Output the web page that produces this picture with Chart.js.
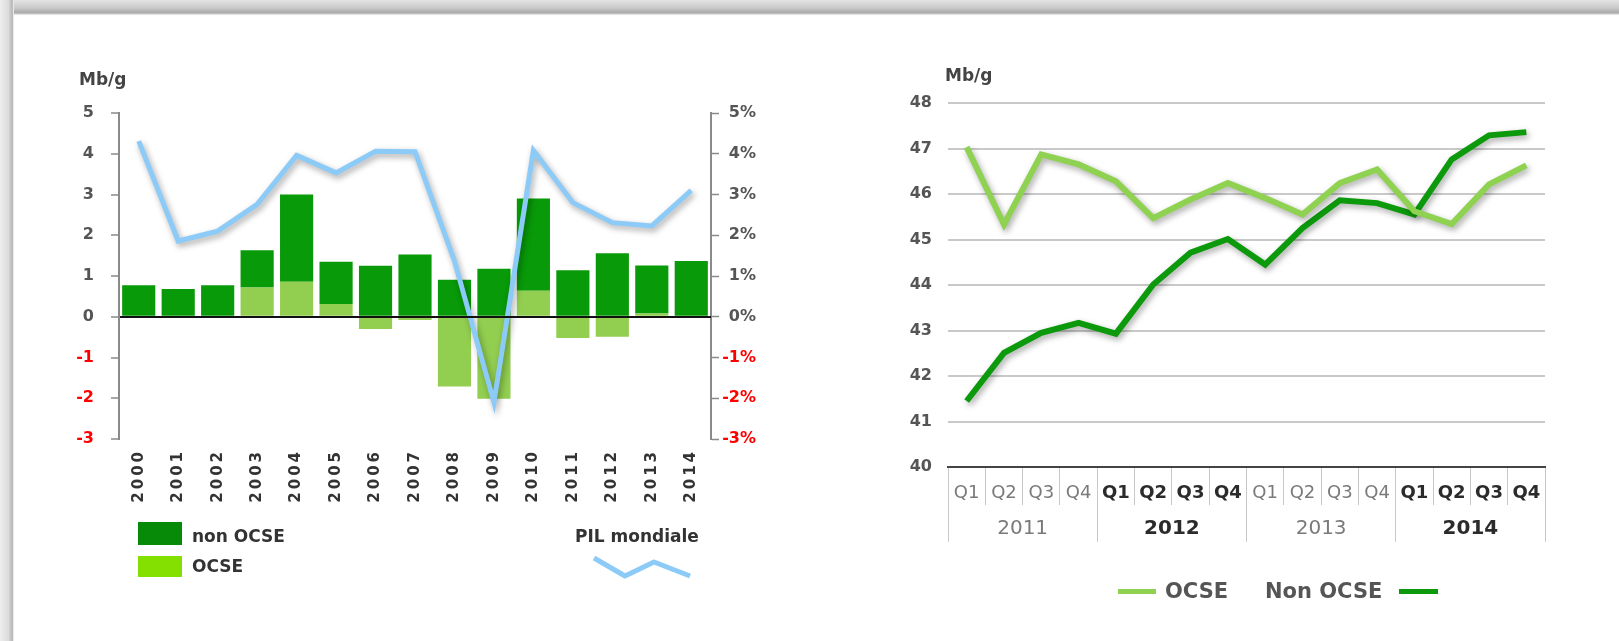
<!DOCTYPE html>
<html>
<head>
<meta charset="utf-8">
<script src="https://cdn.jsdelivr.net/npm/chart.js@4.4.1/dist/chart.umd.min.js"></script>
<style>
html, body { margin: 0; padding: 0; background: #fff; }
body { width: 1619px; height: 641px; position: relative; overflow: hidden; font-family: "DejaVu Sans", Verdana, sans-serif; }
#shadeTop { position: absolute; left: 0; top: 0; width: 1619px; height: 15px; background: linear-gradient(#e4e4e4, #c8c8c8 55%, #a9a9a9 85%, #f2f2f2); }
#shadeLeft { position: absolute; left: 0; top: 0; width: 14px; height: 641px; background: linear-gradient(to right, #eeeeee, #dcdcdc 60%, #b5b5b5 88%, #ffffff); }
.box { position: absolute; }
.lbl { position: absolute; font-weight: bold; white-space: nowrap; line-height: 1; }
</style>
</head>
<body>
<div id="shadeTop"></div>
<div id="shadeLeft"></div>

<div class="box" style="left:0;top:0;width:790px;height:530px"><canvas id="left"></canvas></div>
<div class="box" style="left:800px;top:0;width:819px;height:641px"><canvas id="right"></canvas></div>

<div class="lbl" style="left:79px;top:71px;font-size:17px;color:#444">Mb/g</div>
<div class="lbl" style="left:945px;top:67px;font-size:17px;color:#444">Mb/g</div>

<!-- left legend -->
<div class="box" style="left:138px;top:522px;width:44px;height:23px;background:#078a07"></div>
<div class="box" style="left:138px;top:556px;width:44px;height:21px;background:#84e000"></div>
<div class="lbl" style="left:192px;top:528px;font-size:17px;color:#333">non OCSE</div>
<div class="lbl" style="left:192px;top:558px;font-size:17px;color:#333">OCSE</div>
<div class="lbl" style="left:575px;top:528px;font-size:17px;color:#333">PIL mondiale</div>
<svg class="box" style="left:585px;top:550px" width="115" height="35">
  <polyline points="9,8 40,26 69,12 105,26" fill="none" stroke="#8ccaf7" stroke-width="5" stroke-linejoin="round"/>
</svg>

<!-- right legend -->
<div class="box" style="left:1118px;top:589px;width:38px;height:5px;background:#8fd150"></div>
<div class="lbl" style="left:1165px;top:581px;font-size:21px;color:#555">OCSE</div>
<div class="lbl" style="left:1265px;top:581px;font-size:21px;color:#555">Non OCSE</div>
<div class="box" style="left:1399px;top:589px;width:39px;height:5px;background:#0c9a0c"></div>

<script>
// left chart: yearly change, Mb/g, and world GDP growth (%)
const years = ['2000', '2001', '2002', '2003', '2004', '2005', '2006', '2007',
               '2008', '2009', '2010', '2011', '2012', '2013', '2014'];
const ocse = [0, 0, 0, 0.72, 0.86, 0.31, -0.30, -0.08, -1.71, -2.01, 0.64, -0.52, -0.49, 0.08, 0];
const nonOcse = [0.77, 0.68, 0.77, 0.91, 2.14, 1.04, 1.25, 1.53, 0.91, 1.18, 2.26, 1.14, 1.56, 1.18, 1.37];
const pilMondiale = [4.31, 1.86, 2.10, 2.76, 3.96, 3.53, 4.06, 4.05, 1.37, -2.10, 4.08, 2.80, 2.31, 2.23, 3.10];

// right chart: quarterly demand, Mb/g
const quarters = ['Q1', 'Q2', 'Q3', 'Q4', 'Q1', 'Q2', 'Q3', 'Q4',
                  'Q1', 'Q2', 'Q3', 'Q4', 'Q1', 'Q2', 'Q3', 'Q4'];
const quarterYears = ['2011', '2012', '2013', '2014'];
const ocseQ = [47.03, 45.33, 46.87, 46.65, 46.28, 45.47, 45.88, 46.24,
               45.91, 45.55, 46.24, 46.54, 45.62, 45.34, 46.21, 46.63];
const nonOcseQ = [41.45, 42.51, 42.95, 43.17, 42.93, 44.01, 44.71, 45.01,
                  44.45, 45.25, 45.86, 45.80, 45.55, 46.76, 47.29, 47.36];

const FONT = '"DejaVu Sans", Verdana, sans-serif';

const lineShadow = {
    id: 'lineShadow',
    beforeDatasetDraw(chart, args) {
        if (args.meta.type !== 'line') return;
        const c = chart.ctx;
        c.save();
        c.shadowColor = 'rgba(0,0,0,0.35)';
        c.shadowBlur = 6;
        c.shadowOffsetX = 2;
        c.shadowOffsetY = 3;
    },
    afterDatasetDraw(chart, args) {
        if (args.meta.type === 'line') chart.ctx.restore();
    }
};

// year labels of the left chart are spaced out
const spacedX = {
    id: 'spacedX',
    beforeDraw(chart) {
        const s = chart.scales.x;
        if (s._spaced) return;
        const orig = s.drawLabels;
        s.drawLabels = function (area) {
            chart.ctx.save();
            chart.ctx.letterSpacing = '3px';
            orig.call(this, area);
            chart.ctx.restore();
        };
        s._spaced = true;
    }
};

const axisGrey = '#8a8a8a';

new Chart(document.getElementById('left'), {
    data: {
        labels: years,
        datasets: [
            {
                type: 'line',
                label: 'PIL mondiale',
                data: pilMondiale,
                yAxisID: 'y1',
                borderColor: '#8ccaf7',
                borderWidth: 5,
                pointRadius: 0,
                tension: 0,
                order: 0
            },
            {
                type: 'bar',
                label: 'OCSE',
                data: ocse,
                yAxisID: 'y',
                backgroundColor: '#92cf50',
                categoryPercentage: 1,
                barPercentage: 0.84,
                order: 1
            },
            {
                type: 'bar',
                label: 'non OCSE',
                data: nonOcse,
                yAxisID: 'y',
                backgroundColor: '#089a08',
                categoryPercentage: 1,
                barPercentage: 0.84,
                order: 1
            }
        ]
    },
    options: {
        responsive: true,
        maintainAspectRatio: false,
        animation: false,
        layout: { padding: { top: 113, left: 0, right: 34, bottom: 0 } },
        plugins: { legend: { display: false }, tooltip: { enabled: false } },
        scales: {
            x: {
                stacked: true,
                grid: { display: false },
                border: { display: false },
                ticks: {
                    minRotation: 90, maxRotation: 90, autoSkip: false, padding: 2,
                    color: '#333', font: { family: FONT, size: 15, weight: 'bold' }
                },
                afterFit: s => { s.height = 91; }
            },
            y: {
                stacked: true,
                min: -3, max: 5,
                ticks: {
                    stepSize: 1, padding: 17,
                    color: c => c.tick.value < 0 ? '#ff0000' : '#555',
                    font: { family: FONT, size: 16, weight: 'bold' }
                },
                grid: {
                    z: 1,
                    color: c => c.tick && c.tick.value === 0 ? '#111' : 'transparent',
                    lineWidth: 2,
                    tickColor: axisGrey,
                    tickWidth: 1.5,
                    tickLength: 8
                },
                border: { color: axisGrey, width: 2, z: 1 },
                afterFit: s => { s.width = 119; }
            },
            y1: {
                position: 'right',
                min: -3, max: 5,
                ticks: {
                    stepSize: 1, padding: 3, crossAlign: 'far',
                    callback: v => v + '%',
                    color: c => c.tick.value < 0 ? '#ff0000' : '#555',
                    font: { family: FONT, size: 16, weight: 'bold' }
                },
                grid: { drawOnChartArea: false, tickColor: axisGrey, tickWidth: 1.5, tickLength: 8 },
                border: { color: axisGrey, width: 2 },
                afterFit: s => { s.width = 45; }
            }
        }
    },
    plugins: [lineShadow, spacedX]
});

const boldYear = i => Math.floor(i / 4) % 2 === 1;

new Chart(document.getElementById('right'), {
    type: 'line',
    data: {
        labels: quarters,
        datasets: [
            {
                label: 'OCSE',
                data: ocseQ,
                borderColor: '#8fd150',
                borderWidth: 6,
                pointRadius: 0,
                tension: 0
            },
            {
                label: 'Non OCSE',
                data: nonOcseQ,
                borderColor: '#0c9a0c',
                borderWidth: 6,
                pointRadius: 0,
                tension: 0
            }
        ]
    },
    options: {
        responsive: true,
        maintainAspectRatio: false,
        animation: false,
        layout: { padding: { top: 103, left: 0, right: 74, bottom: 99 } },
        plugins: { legend: { display: false }, tooltip: { enabled: false } },
        scales: {
            x: {
                offset: true,
                weight: 0,
                grid: { offset: true, drawOnChartArea: false, color: '#c8c8c8', lineWidth: 1, tickLength: 38 },
                border: { color: '#444', width: 2 },
                ticks: {
                    maxRotation: 0, autoSkip: false, padding: -22,
                    color: c => boldYear(c.index) ? '#2b2b2b' : '#7a7a7a',
                    font: c => ({ family: FONT, size: 18, weight: boldYear(c.index) ? 'bold' : 'normal' })
                },
                afterFit: s => { s.height = 38; }
            },
            x2: {
                type: 'category',
                labels: quarterYears,
                position: 'bottom',
                offset: true,
                weight: 1,
                grid: { offset: true, drawOnChartArea: false, color: '#c8c8c8', lineWidth: 1, tickLength: 37 },
                border: { display: false },
                ticks: {
                    maxRotation: 0, autoSkip: false, padding: -25,
                    color: c => c.index % 2 === 1 ? '#2b2b2b' : '#7a7a7a',
                    font: c => ({ family: FONT, size: 20, weight: c.index % 2 === 1 ? 'bold' : 'normal' })
                },
                afterFit: s => { s.height = 37; }
            },
            y: {
                min: 40, max: 48,
                ticks: {
                    stepSize: 1, padding: 16, color: '#555',
                    font: { family: FONT, size: 16, weight: 'bold' }
                },
                grid: { color: '#c9c9c9', lineWidth: 2, drawTicks: false },
                border: { display: false },
                afterFit: s => { s.width = 148; }
            }
        }
    },
    plugins: [lineShadow]
});
</script>
</body>
</html>
